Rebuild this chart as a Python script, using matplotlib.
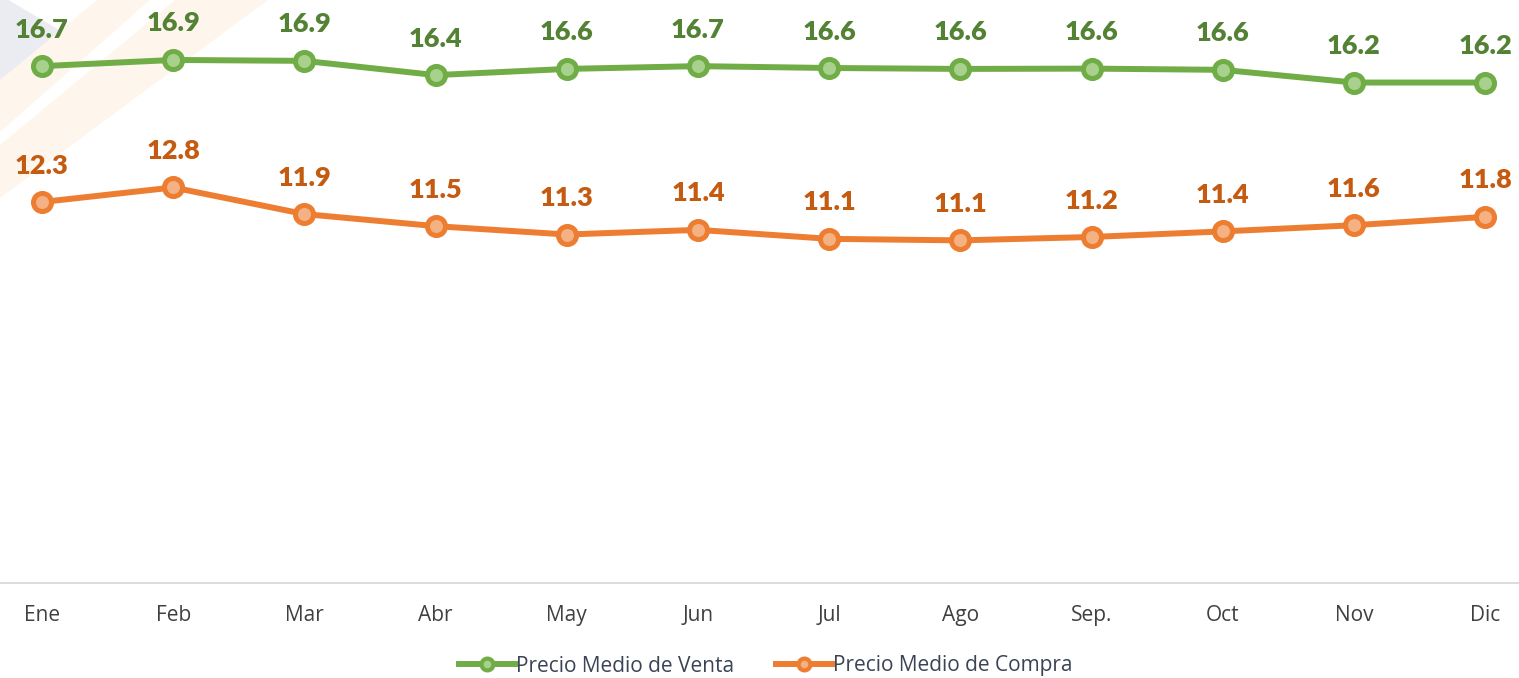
import matplotlib
matplotlib.use("Agg")
import matplotlib.pyplot as plt
from matplotlib.lines import Line2D
from matplotlib.patches import Polygon

months = ["Ene", "Feb", "Mar", "Abr", "May", "Jun", "Jul", "Ago", "Sep.", "Oct", "Nov", "Dic"]
venta = [16.70, 16.90, 16.87, 16.41, 16.61, 16.70, 16.64, 16.61, 16.62, 16.58, 16.17, 16.17]
compra = [12.31, 12.78, 11.92, 11.53, 11.26, 11.41, 11.12, 11.07, 11.18, 11.36, 11.56, 11.83]
series_names = ["Precio Medio de Venta", "Precio Medio de Compra"]

W, H = 1519, 678
fig = plt.figure(figsize=(W / 100, H / 100), dpi=100)

# faint watermark shapes (figure pixel coords)
def px(points):
    return [(x / W, 1 - y / H) for x, y in points]

fig.patches.append(Polygon(px([(0, -5), (88, 47), (0, 102)]), closed=True,
                           transform=fig.transFigure, fc="#eaecf1", ec="none", zorder=0))
fig.patches.append(Polygon(px([(97, 0), (150, 0), (0, 132), (0, 80)]), closed=True,
                           transform=fig.transFigure, fc="#fef6ec", ec="none", zorder=0))
fig.patches.append(Polygon(px([(175, 0), (268, 0), (0, 198), (0, 145)]), closed=True,
                           transform=fig.transFigure, fc="#fef6ec", ec="none", zorder=0))

x0_px, dx_px = 42, 131.2
left_px = x0_px - dx_px / 2
width_px = dx_px * 12
base_px = 583
ymax = 18
unit_px = 30.95
ax = fig.add_axes([left_px / W, (H - base_px) / H, width_px / W, ymax * unit_px / H])
ax.patch.set_alpha(0)
ax.set_zorder(2)

x = list(range(len(months)))
green_line, green_face, green_txt = "#70ad47", "#a9d18e", "#548235"
orange_line, orange_face, orange_txt = "#ed7d31", "#f4b183", "#c55a11"

for vals, lc, fc, tc in [(venta, green_line, green_face, green_txt),
                         (compra, orange_line, orange_face, orange_txt)]:
    ax.plot(x, vals, color=lc, lw=4.3, marker="o", ms=13, mfc=fc, mec=lc,
            mew=3.6, solid_capstyle="round", zorder=3, clip_on=False)
    for xi, v in zip(x, vals):
        ax.annotate(f"{v:.1f}", (xi, v), xytext=(0, 20.5), textcoords="offset points",
                    ha="center", va="baseline", fontsize=19.5, fontweight="heavy",
                    color=tc, family="Lato", zorder=4)

ax.set_xlim(-0.5, 11.5)
ax.set_ylim(0, ymax)
ax.set_xticks(x)
ax.set_xticklabels(months, fontsize=15, color="#404040", family="Open Sans")
ax.tick_params(axis="x", length=0, pad=16)
ax.set_yticks([])
for s in ["top", "right", "left"]:
    ax.spines[s].set_visible(False)
ax.spines["bottom"].set_color("#d9d9d9")
ax.spines["bottom"].set_linewidth(1.3)

handles = [Line2D([], [], color=green_line, lw=4.3, marker="o", ms=8.5, mfc=green_face,
                  mec=green_line, mew=3),
           Line2D([], [], color=orange_line, lw=4.3, marker="o", ms=8.5, mfc=orange_face,
                  mec=orange_line, mew=3)]
leg = fig.legend(handles, series_names, loc="center", bbox_to_anchor=(766 / W, 1 - 666 / H),
                 ncol=2, frameon=False, handlelength=2.7, handletextpad=0.05,
                 columnspacing=2.0, prop={"family": "Open Sans", "size": 15})
for t in leg.get_texts():
    t.set_color("#3b4456")

fig.savefig("out.png", dpi=100)
